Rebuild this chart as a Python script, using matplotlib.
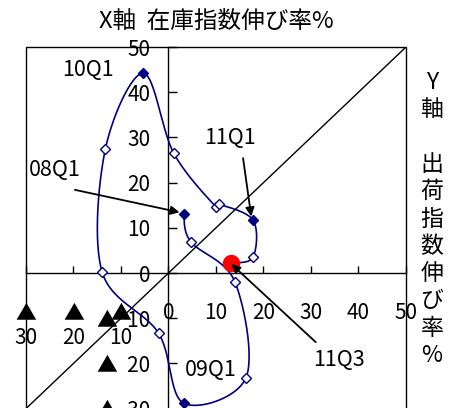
import numpy as np
import matplotlib
matplotlib.use("Agg")
import matplotlib.pyplot as plt
from matplotlib.patches import Rectangle

plt.rcParams['font.family'] = ['Noto Sans CJK JP', 'DejaVu Sans']

# Quarterly growth rates (%): x = inventory index, y = shipment index
quarters = ['08Q1', '08Q2', '08Q3', '08Q4',
            '09Q1', '09Q2', '09Q3', '09Q4',
            '10Q1', '10Q2', '10Q3', '10Q4',
            '11Q1', '11Q2', '11Q3']
inventory_growth = [3.2, 4.7, 14.0, 16.3,
                    3.2, -2.1, -14.0, -13.3,
                    -5.3, 1.1, 10.0, 10.6,
                    17.8, 17.8, 13.1]
shipment_growth = [13.1, 6.9, -2.0, -23.2,
                   -28.8, -13.3, 0.3, 27.4,
                   44.2, 26.5, 14.6, 15.2,
                   11.7, 3.5, 2.2]

tick_values = list(range(-30, 51, 10))
title_text = 'X軸  在庫指数伸び率%'
ylabel_text = 'Y\n軸\n\n出\n荷\n指\n数\n伸\nび\n率\n%'

# labelled quarters: (label, text position, arrow start or None)
labelled = {
    '10Q1': ((-16.9, 45.0), None),
    '08Q1': ((-23.9, 22.8), (-19.7, 18.4)),
    '11Q1': ((12.9, 29.9), (15.7, 25.4)),
    '09Q1': ((8.9, -21.5), None),
    '11Q3': ((36.0, -19.2), (31.0, -15.3)),
}


def smooth_path(xs, ys, steps=30):
    """Bezier smoothing through every point (Catmull-Rom style tangents)."""
    pts = np.column_stack([xs, ys]).astype(float)
    ext = np.vstack([pts[0], pts, pts[-1]])
    out = []
    t = np.linspace(0, 1, steps)[:, None]
    for i in range(1, len(ext) - 2):
        p0, p1, p2, p3 = ext[i - 1], ext[i], ext[i + 1], ext[i + 2]
        c1 = p1 + (p2 - p0) / 6.0
        c2 = p2 - (p3 - p1) / 6.0
        seg = ((1 - t) ** 3) * p1 + 3 * ((1 - t) ** 2) * t * c1 \
            + 3 * (1 - t) * t ** 2 * c2 + t ** 3 * p2
        out.append(seg if i == 1 else seg[1:])
    out = np.vstack(out)
    return out[:, 0], out[:, 1]


fig = plt.figure(figsize=(4.49, 4.08), dpi=100)
ax = fig.add_axes([26 / 449, -0.0015, 380 / 449, 0.8863])
ax.set_xlim(-30, 50)
ax.set_ylim(-30, 50)

# reference diagonal y = x
ax.plot([-30, 50], [-30, 50], color='black', lw=1.0, zorder=2)

# smoothed trajectory
sx, sy = smooth_path(inventory_growth, shipment_growth)
ax.plot(sx, sy, color='#000080', lw=1.2, zorder=3)

navy = '#000080'
for q, x, y in zip(quarters, inventory_growth, shipment_growth):
    if q == quarters[-1]:
        ax.plot(x, y, 'o', ms=11.5, color='#FF0000', mec='#FF0000', zorder=5)
    elif q.endswith('Q1'):
        ax.plot(x, y, 'D', ms=5.5, color=navy, mec=navy, zorder=4)
    else:
        ax.plot(x, y, 'D', ms=5.5, mfc='white', mec=navy, mew=1.0, zorder=4)

for q, (txt_pos, start) in labelled.items():
    i = quarters.index(q)
    ax.text(txt_pos[0], txt_pos[1], q, fontsize=15.5, ha='center', va='center', zorder=6)
    if start is not None:
        tx, ty = inventory_growth[i], shipment_growth[i]
        ax.annotate('', xy=(tx - 0.3, ty + 0.2), xytext=start,
                    arrowprops=dict(arrowstyle='-|>', color='black', lw=1.3,
                                    mutation_scale=13, shrinkA=0, shrinkB=2),
                    zorder=6)

# axes crossing at the origin
for side in ('top', 'right'):
    ax.spines[side].set_visible(False)
ax.spines['left'].set_position(('data', 0))
ax.spines['bottom'].set_position(('data', 0))
for side in ('left', 'bottom'):
    ax.spines[side].set_linewidth(1.0)
ax.add_patch(Rectangle((0, 0), 1, 1, transform=ax.transAxes, fill=False,
                       lw=1.0, edgecolor='black', clip_on=False, zorder=1))


def xlab(v):
    return '▲\n%d' % abs(v) if v < 0 else '%d' % v


def ylab(v):
    return '▲  %d' % abs(v) if v < 0 else '%d' % v


ax.set_xticks(tick_values)
ax.set_xticklabels([xlab(v) for v in tick_values], fontsize=15, linespacing=1.15)
ax.set_yticks(tick_values)
ax.set_yticklabels([ylab(v) for v in tick_values], fontsize=15)
ax.tick_params(axis='x', direction='in', length=5, width=1, pad=21)
ax.tick_params(axis='y', direction='in', length=6.5, width=1, pad=13)
for lbl in ax.get_xticklabels():
    lbl.set_verticalalignment('top')

fig.text(216 / 449, 1 - 21 / 408, title_text, fontsize=17, ha='center', va='center')
fig.text(432 / 449, 1 - 219 / 408, ylabel_text, fontsize=16.5, ha='center', va='center',
         multialignment='center', linespacing=1.24)

fig.savefig('out.png', dpi=100)
